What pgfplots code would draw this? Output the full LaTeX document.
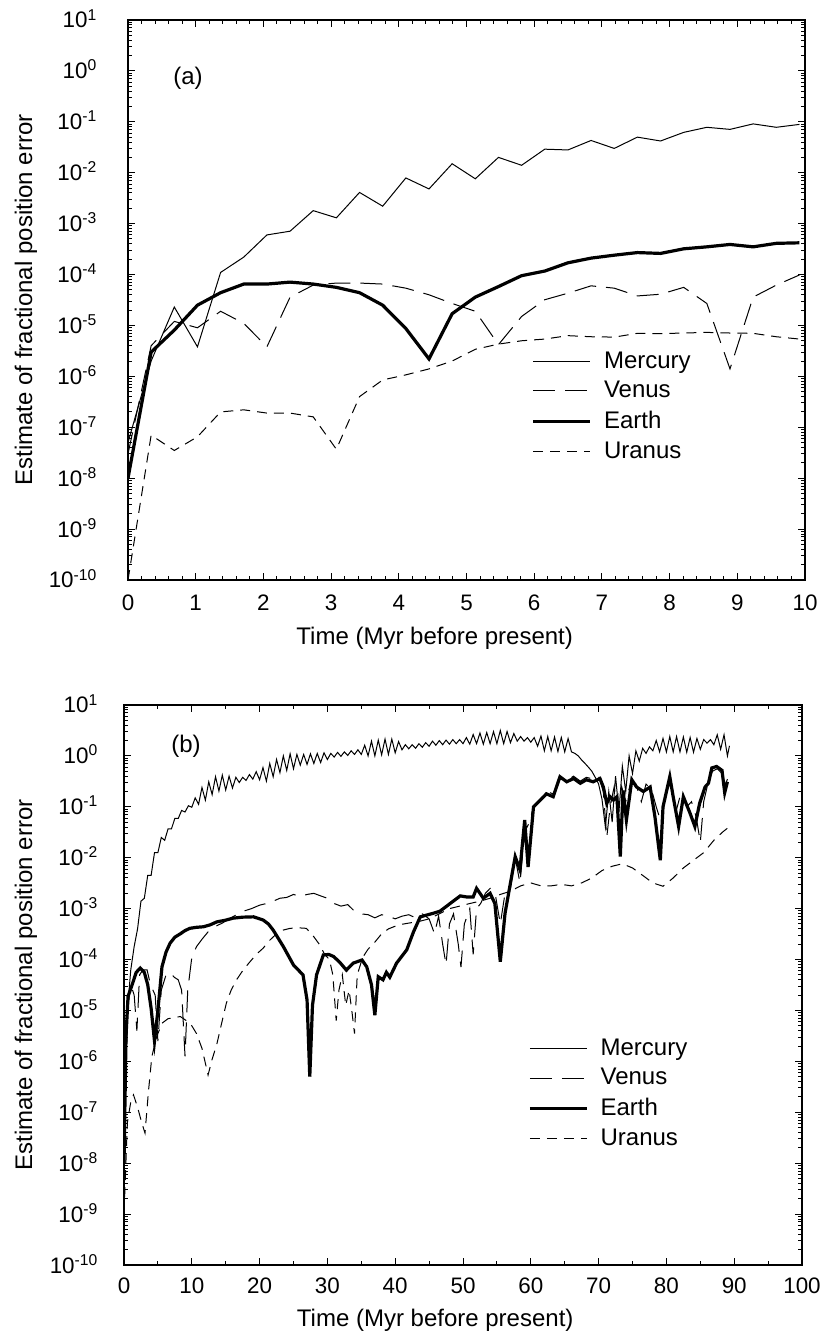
\documentclass[border=0pt]{standalone}
\usepackage{fontspec}
\setmainfont{Liberation Sans}
\usepackage{pgfplots}
\usepackage{pgfplotstable}
\pgfplotsset{compat=1.18}

\newcommand\tickfont{\fontsize{11.2}{13}\selectfont}
\newcommand\labfont{\fontsize{12}{14}\selectfont}
\newcommand\ylabfont{\fontsize{12}{14}\selectfont}

% panel (a): 0-10 Myr, one value every 0.342 Myr
\pgfplotstableread{
t      mer     ven     ear      ura
0.000  5.0e-8  3.0e-8  1.0e-8   1.0e-10
0.342  2.0e-6  4.0e-6  3.0e-6   7.0e-8
0.684  2.3e-5  1.2e-5  8.1e-6   3.5e-8
1.026  3.8e-6  9.0e-6  2.5e-5   6.5e-8
1.368  1.1e-4  1.9e-5  4.4e-5   2.0e-7
1.710  2.2e-4  1.1e-5  6.5e-5   2.2e-7
2.052  6.0e-4  3.8e-6  6.5e-5   1.9e-7
2.394  7.1e-4  3.6e-5  7.1e-5   1.9e-7
2.736  1.8e-3  6.2e-5  6.5e-5   1.6e-7
3.078  1.3e-3  6.8e-5  5.6e-5   3.7e-8
3.420  4.1e-3  6.8e-5  4.4e-5   4.0e-7
3.762  2.2e-3  6.5e-5  2.5e-5   8.5e-7
4.104  7.9e-3  5.4e-5  8.7e-6   1.07e-6
4.446  4.8e-3  4.0e-5  2.2e-6   1.4e-6
4.788  1.5e-2  2.7e-5  1.7e-5   2.0e-6
5.130  7.6e-3  1.9e-5  3.6e-5   3.4e-6
5.472  2.0e-2  4.2e-6  5.8e-5   4.3e-6
5.814  1.4e-2  1.5e-5  9.5e-5   5.0e-6
6.156  2.9e-2  3.2e-5  1.17e-4  5.4e-6
6.498  2.8e-2  4.3e-5  1.7e-4   6.3e-6
6.840  4.3e-2  6.0e-5  2.1e-4   6.0e-6
7.182  3.0e-2  5.4e-5  2.4e-4   5.9e-6
7.524  5.0e-2  3.8e-5  2.7e-4   7.0e-6
7.866  4.2e-2  4.1e-5  2.6e-4   6.9e-6
8.208  6.2e-2  5.6e-5  3.2e-4   7.1e-6
8.550  7.8e-2  2.7e-5  3.5e-4   7.3e-6
8.892  7.1e-2  1.4e-6  3.9e-4   7.1e-6
9.234  9.1e-2  3.6e-5  3.5e-4   7.0e-6
9.576  7.8e-2  6.2e-5  4.1e-4   6.0e-6
9.918  8.9e-2  9.8e-5  4.2e-4   5.4e-6
}\panela

% panel (b): 0-90 Myr
\pgfplotstableread{
t y
0 1e-8
0.25 1e-6
0.5 6.3e-6
0.75 2.5e-5
1.0 6.3e-5
1.5 1.8e-4
2.0 4.0e-4
2.5 1.4e-3
3.0 1.6e-3
3.5 4.5e-3
4.0 4.5e-3
4.5 1.26e-2
5.0 1.26e-2
5.5 2.5e-2
6.0 2.2e-2
6.5 3.7e-2
7.0 3.7e-2
7.5 5.9e-2
8.0 5.9e-2
8.5 8.5e-2
9.0 7.9e-2
9.5 0.105
10.0 0.098
10.5 0.15
11.0 0.112
11.5 0.24
12.0 0.135
12.5 0.31
13.0 0.174
13.5 0.39
14.0 0.204
14.5 0.42
15.0 0.214
15.5 0.40
16.0 0.234
16.5 0.38
17.0 0.30
17.5 0.38
18.0 0.33
18.5 0.43
19.0 0.35
19.5 0.49
20.0 0.34
20.5 0.59
21.0 0.32
21.5 0.71
22.0 0.39
22.5 0.85
23.0 0.47
23.5 1.0
24.0 0.52
24.5 1.10
25.0 0.56
25.5 1.07
26.0 0.66
26.5 1.07
27.0 0.68
27.5 1.10
28.0 0.71
28.5 1.12
29.0 0.74
29.5 1.15
30.0 0.85
30.5 1.12
31.0 0.95
31.5 1.17
32.0 0.98
32.5 1.20
33.0 1.02
33.5 1.26
34.0 1.07
34.5 1.32
35.0 1.07
35.5 1.62
36.0 1.0
36.5 1.95
37.0 1.0
37.5 2.04
38.0 1.05
38.5 2.14
39.0 1.07
39.5 2.14
40.0 1.15
40.5 1.91
41.0 1.32
41.5 1.66
42.0 1.38
42.5 1.66
43.0 1.41
43.5 1.74
44.0 1.48
44.5 1.82
45.0 1.55
45.5 1.95
46.0 1.62
46.5 2.0
47.0 1.66
47.5 2.04
48.0 1.70
48.5 2.09
49.0 1.74
49.5 2.09
50.0 1.74
50.5 2.29
51.0 1.70
51.5 2.63
52.0 1.74
52.5 2.82
53.0 1.70
53.5 2.88
54.0 1.74
54.5 3.0
55.0 1.74
55.5 3.16
56.0 1.74
56.5 3.02
57.0 1.82
57.5 2.75
58.0 1.95
58.5 2.40
59.0 1.95
59.5 2.29
60.0 1.86
60.5 2.29
61.0 1.55
61.5 2.45
62.0 1.26
62.5 2.40
63.0 1.26
63.5 2.35
64.0 1.22
64.5 2.30
65.0 1.20
65.5 2.20
66.0 1.20
66.5 1.12
67.0 1.0
67.5 0.83
68.0 0.71
68.5 0.60
69.0 0.50
69.5 0.38
70.0 0.28
70.5 0.141
71.0 0.040
71.5 0.20
72.0 0.050
72.5 0.40
73.0 0.079
73.5 0.63
74.0 0.20
74.5 1.0
75.0 0.45
75.5 1.26
76.0 0.79
76.5 1.41
77.0 1.12
77.5 1.51
78.0 1.26
78.5 2.0
79.0 1.20
79.5 2.2
80.0 1.2
80.5 2.4
81.0 1.2
81.5 2.4
82.0 1.2
82.5 2.35
83.0 1.18
83.5 2.3
84.0 1.18
84.5 2.2
85.0 1.35
85.5 2.09
86.0 1.78
86.5 2.09
87.0 1.66
87.5 2.6
88.0 1.35
88.5 2.6
89.0 1.0
89.3 1.58
}\merb

\pgfplotstableread{
t y
0 3e-8
0.3 1e-6
0.6 1.26e-5
1.0 3.2e-5
1.5 2e-5
1.9 4e-6
2.3 5e-5
2.8 6.3e-5
3.4 6.3e-5
3.9 3.2e-5
4.6 2e-5
5.0 2.5e-6
5.5 2.5e-5
6.2 5e-5
6.8 5.6e-5
7.4 4.5e-5
8.0 4e-5
8.5 2.5e-5
9.0 1.26e-6
9.4 2.5e-5
10.0 1.1e-4
10.7 1.8e-4
11.5 2.5e-4
12.4 3.5e-4
13.5 4.5e-4
14.5 5.2e-4
15.5 6.3e-4
16.6 7.6e-4
17.6 8.9e-4
18.8 1e-3
20 1.17e-3
21 1.26e-3
22 1.4e-3
23 1.6e-3
24 1.66e-3
25 1.9e-3
26 1.74e-3
27 1.9e-3
28 2e-3
29 1.78e-3
30 1.6e-3
31 1.26e-3
32 1.12e-3
33 1.2e-3
34 8.9e-4
35 7.9e-4
36 7.6e-4
37 6.6e-4
38 7.6e-4
39 7.1e-4
40 6.3e-4
41 7.1e-4
42 7.6e-4
43 6.6e-4
44 7.9e-4
45 6.3e-4
45.8 3.2e-4
46.4 7.1e-4
47.0 2e-4
47.5 7.9e-5
48.0 5e-4
48.6 7.9e-4
49.3 2e-4
49.7 7.1e-5
50.2 5e-4
51.0 1e-3
51.5 1.26e-4
52.0 1e-3
52.6 1.26e-3
53.3 2e-3
54.0 2.5e-3
54.8 1.78e-3
55.5 5e-4
56.2 2e-3
57.0 2.5e-3
57.7 1e-2
58.4 3.2e-3
59.1 3.2e-2
59.8 5e-2
60.4 0.1
61.4 0.14
62.3 0.2
63.3 0.18
64.3 0.35
65.3 0.33
66.3 0.4
67.3 0.32
68.2 0.38
69.2 0.35
70.0 0.4
70.7 0.2
71.2 2.5e-2
71.7 0.1
72.3 0.25
72.8 7.9e-2
73.4 0.25
74.0 0.126
74.8 0.32
75.5 0.28
76.3 0.126
77.0 0.28
77.8 0.22
78.5 0.1
79.2 5e-2
80.0 0.2
80.7 0.32
81.4 7.9e-2
82.2 0.2
83.0 0.1
83.7 0.126
84.4 6.3e-2
85.0 2e-2
85.5 0.126
86.2 0.32
86.8 0.5
87.5 0.56
88.2 0.45
88.6 0.25
89.0 0.35
}\venb

\pgfplotstableread{
t y
0 1e-8
0.3 3.2e-6
0.6 1.9e-5
1.2 3.2e-5
1.8 5.6e-5
2.4 6.8e-5
3.0 5.6e-5
3.5 3.2e-5
4.0 1.1e-5
4.5 2.5e-6
5.0 1e-5
5.6 7.2e-5
6.2 1.4e-4
6.8 2.1e-4
7.5 2.75e-4
8.3 3.2e-4
9.0 3.7e-4
9.7 4.1e-4
10.7 4.3e-4
11.7 4.4e-4
12.7 4.8e-4
13.7 5.5e-4
14.9 5.9e-4
16.1 6.5e-4
17.5 6.8e-4
19.1 6.9e-4
20.5 6.0e-4
21.3 5.0e-4
22.0 3.8e-4
23.5 1.8e-4
25.0 7.8e-5
26.4 5.0e-5
27.0 1.6e-5
27.4 5e-7
27.8 1.26e-5
28.4 5.0e-5
29.4 1.23e-4
30.2 1.26e-4
30.9 1.15e-4
31.8 8.9e-5
32.8 6.2e-5
33.8 8.5e-5
35.1 9.8e-5
35.8 7.2e-5
36.5 3.2e-5
37.0 8.1e-6
37.5 4.6e-5
38.2 4.0e-5
38.7 5.6e-5
39.2 4.5e-5
40.2 8.5e-5
41.7 1.55e-4
42.7 3.5e-4
43.7 6.9e-4
45.6 8.1e-4
46.6 8.9e-4
48.1 1.26e-3
49.6 1.78e-3
50.5 1.7e-3
51.5 1.7e-3
52.0 2.5e-3
53.0 1.6e-3
54.0 2.0e-3
54.7 1.26e-3
55.5 9.1e-5
56.2 8.1e-4
56.9 2.7e-3
57.7 1.05e-2
58.4 5.8e-3
59.1 5.5e-2
59.6 6.6e-3
60.4 0.1
61.4 0.135
62.3 0.18
63.3 0.158
64.3 0.39
65.3 0.31
66.3 0.36
67.3 0.29
68.2 0.34
69.2 0.31
70.2 0.36
70.7 0.245
71.2 0.117
71.7 0.158
72.2 0.135
72.7 0.158
73.2 1.05e-2
73.6 0.21
74.1 5.5e-2
74.9 0.34
75.6 0.245
76.6 0.20
77.6 0.245
78.3 6.5e-2
79.1 8.9e-3
79.5 0.1
80.5 0.39
81.0 0.158
81.8 4.1e-2
82.5 0.158
83.5 7.4e-2
84.2 4.1e-2
84.9 0.117
85.7 0.245
86.2 0.29
86.7 0.58
87.4 0.62
88.2 0.52
88.6 0.19
89.0 0.31
}\earb

\pgfplotstableread{
t y
0 1e-9
0.5 6.3e-8
1.0 1.6e-7
1.4 2.2e-7
2.0 1.26e-7
2.6 6.3e-8
3.1 3.9e-8
3.6 2.5e-7
4.1 1.23e-6
4.8 3e-6
5.6 5.6e-6
6.5 6.9e-6
7.4 7.2e-6
8.3 7.6e-6
9.2 6.3e-6
10.0 5e-6
10.7 3.5e-6
11.5 1.8e-6
12.4 5.4e-7
13.0 1.1e-6
13.7 2.2e-6
14.4 5.6e-6
15.1 1.4e-5
15.8 2.5e-5
16.6 4e-5
17.6 6.3e-5
18.6 9.1e-5
19.5 1.26e-4
20.5 1.66e-4
21.5 2.4e-4
22.5 3.2e-4
23.5 3.8e-4
24.5 4.1e-4
25.7 4.2e-4
26.9 4.1e-4
28.0 2.8e-4
28.8 2e-4
29.6 1.26e-4
30.3 1e-4
30.8 5e-5
31.3 6.3e-6
31.7 2.5e-5
32.2 5e-5
32.7 1.26e-5
33.2 2.5e-5
33.6 1e-5
34.0 3.5e-6
34.4 5e-5
35.2 1.1e-4
36.0 1.6e-4
37.0 2.2e-4
38.0 3.2e-4
39.0 4e-4
40.5 4.8e-4
42 5.2e-4
43.5 5.6e-4
45 6.3e-4
46.5 7.9e-4
48 1e-3
49.5 1.12e-3
51 1.26e-3
52.5 1.4e-3
54 1.6e-3
55.5 1.9e-3
57 2.2e-3
58.5 2.8e-3
60 3.2e-3
61.5 2.8e-3
63 2.8e-3
64.5 3e-3
66 2.8e-3
67.5 3.2e-3
69 4e-3
70.5 5.6e-3
72 6.8e-3
73.5 7.6e-3
75 6.3e-3
76.5 4.5e-3
78 3.2e-3
79.5 2.75e-3
81 4e-3
82.5 6.3e-3
84 8.9e-3
85.5 1.26e-2
87 2.2e-2
88.3 3.2e-2
89.0 3.8e-2
}\urab

\tikzset{
  merc/.style={black, line width=0.5pt},
  venus/.style={black, line width=0.5pt, dash pattern=on 11pt off 5pt},
  earth/.style={black, line width=1.6pt},
  uranus/.style={black, line width=0.5pt, dash pattern=on 5pt off 3.5pt},
}

\begin{document}
\begin{tikzpicture}
\begin{axis}[
  ymode=log,
  scale only axis,
  width=338.5pt, height=280pt,
  at={(64pt,658.5pt)}, anchor=north west,
  xmin=0, xmax=10, xtick={0,...,10}, minor x tick num=4,
  ymin=1e-10, ymax=10,
  ytickten={-10,...,1},
  yticklabels={10\textsuperscript{-10},10\textsuperscript{-9},10\textsuperscript{-8},
    10\textsuperscript{-7},10\textsuperscript{-6},10\textsuperscript{-5},
    10\textsuperscript{-4},10\textsuperscript{-3},10\textsuperscript{-2},
    10\textsuperscript{-1},10\textsuperscript{0},10\textsuperscript{1}},
  axis line style={line width=0.6pt},
  tick align=inside,
  tick style={black, line width=0.5pt},
  major tick length=3.5pt, minor tick length=1.8pt,
  /pgf/number format/assume math mode=true,
  xticklabel style={font=\tickfont, yshift=-3.8pt},
  yticklabel style={font=\tickfont, anchor=base east, yshift=-4pt, xshift=-11.8pt},
  xlabel={Time (Myr before present)},
  ylabel={Estimate of fractional position error},
  every axis x label/.style={at={(axis description cs:0.453,0)}, anchor=base, yshift=-32.5pt, font=\labfont},
  every axis y label/.style={at={(axis description cs:-0.1507,0.5)}, rotate=90, anchor=center, font=\ylabfont},
  legend style={draw=none, fill=none, font=\labfont, at={(0.587,0.423)}, anchor=north west,
    row sep=1.1pt, /tikz/every odd column/.append style={column sep=4pt}},
  legend cell align=left,
  legend image code/.code={\draw[#1] (0pt,0pt) -- (28.5pt,0pt);},
]
\addplot[merc] table[x=t, y=mer] {\panela};
\addplot[venus] table[x=t, y=ven] {\panela};
\addplot[earth] table[x=t, y=ear] {\panela};
\addplot[uranus] table[x=t, y=ura] {\panela};
\legend{Mercury,Venus,Earth,Uranus}
\node[font=\labfont] at (axis description cs:0.0886,0.895) {(a)};
\end{axis}

\begin{axis}[
  ymode=log,
  scale only axis,
  width=339pt, height=280pt,
  at={(62pt,316pt)}, anchor=north west,
  xmin=0, xmax=100, xtick={0,10,...,100}, minor x tick num=1,
  ymin=1e-10, ymax=10,
  ytickten={-10,...,1},
  yticklabels={10\textsuperscript{-10},10\textsuperscript{-9},10\textsuperscript{-8},
    10\textsuperscript{-7},10\textsuperscript{-6},10\textsuperscript{-5},
    10\textsuperscript{-4},10\textsuperscript{-3},10\textsuperscript{-2},
    10\textsuperscript{-1},10\textsuperscript{0},10\textsuperscript{1}},
  axis line style={line width=0.6pt},
  tick align=inside,
  tick style={black, line width=0.5pt},
  major tick length=3.5pt, minor tick length=1.8pt,
  /pgf/number format/assume math mode=true,
  xticklabel style={font=\tickfont, yshift=-2.8pt},
  yticklabel style={font=\tickfont, anchor=base east, yshift=-4pt, xshift=-9.3pt},
  xlabel={Time (Myr before present)},
  ylabel={Estimate of fractional position error},
  every axis x label/.style={at={(axis description cs:0.459,0)}, anchor=base, yshift=-30.5pt, font=\labfont},
  every axis y label/.style={at={(axis description cs:-0.1445,0.5)}, rotate=90, anchor=center, font=\ylabfont},
  legend style={draw=none, fill=none, font=\labfont, at={(0.587,0.419)}, anchor=north west,
    row sep=1.1pt, /tikz/every odd column/.append style={column sep=4pt}},
  legend cell align=left,
  legend image code/.code={\draw[#1] (0pt,0pt) -- (28.5pt,0pt);},
]
\addplot[merc] table[x=t, y=y] {\merb};
\addplot[venus] table[x=t, y=y] {\venb};
\addplot[earth] table[x=t, y=y] {\earb};
\addplot[uranus] table[x=t, y=y] {\urab};
\legend{Mercury,Venus,Earth,Uranus}
\node[font=\labfont] at (axis description cs:0.0914,0.927) {(b)};
\end{axis}
\pgfresetboundingbox
\path[use as bounding box] (0,0) rectangle (411pt,668.5pt);
\end{tikzpicture}
\end{document}
